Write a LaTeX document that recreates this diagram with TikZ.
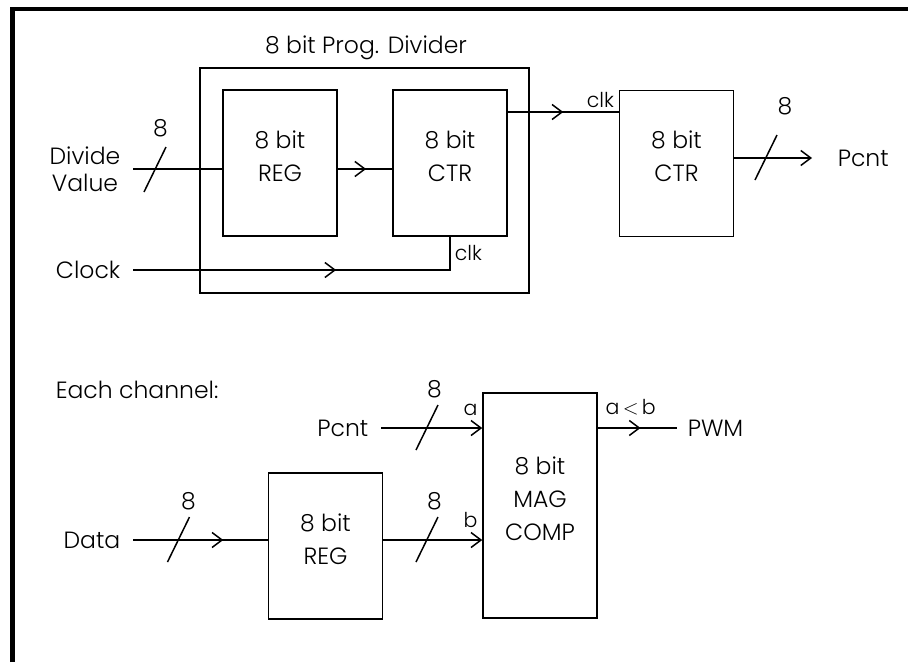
\documentclass[tikz,border=0pt]{standalone}
\usepackage{fontspec}
\setmainfont{Poppins Light}
\usetikzlibrary{arrows.meta,decorations.markings}

\tikzset{
  blk/.style={draw,inner sep=0pt,align=center,font=\fontsize{23.5}{33}\selectfont,
    execute at end node={\rule[-14pt]{0pt}{0pt}}},
  io/.style={inner xsep=12pt,inner ysep=0pt,align=center,font=\fontsize{23.5}{27}\selectfont},
  pin/.style={inner sep=4pt,font=\fontsize{20.5}{22}\selectfont},
  num/.style={inner sep=0pt,font=\fontsize{23.5}{24}\selectfont},
  midarrow/.style={postaction={decorate},decoration={markings,
    mark=at position #1 with {\arrow{Straight Barb[length=10pt,width=15pt]}}}},
}
% bus slash with its width
\newcommand{\busline}[3]{\draw (#1) ++(-11,22.5) -- ++(22,-45);
  \node[num] (#2) at (#3) {8};}

\begin{document}
\begin{tikzpicture}[x=1pt,y=-1pt,line width=1.5pt,>={Straight Barb[length=10pt,width=15pt]}]
  \useasboundingbox (0,0) rectangle (908,662);
  \draw[line width=4.5pt] (12.3,662) -- (12.3,9) -- (908,9);

  % divider
  \node[draw,minimum width=329pt,minimum height=225pt] (prog) at (364.5,180.5) {};
  \node[io,inner xsep=0pt] (progname) at (366,48) {8 bit Prog. Divider};
  \node[blk,minimum width=114pt,minimum height=146pt] (reg1) at (280,163) {8 bit\\REG};
  \node[blk,minimum width=114pt,minimum height=146pt] (ctr1) at (450,163) {8 bit\\CTR};
  \node[blk,minimum width=114pt,minimum height=146pt] (ctr2) at (676.5,163.5) {8 bit\\CTR};

  \node[io,anchor=east] (divval) at (133,169) {Divide\\Value};
  \node[io,anchor=east] (clock) at (133,270) {Clock};
  \node[io,anchor=west,inner xsep=25pt] (pcntout) at (812,158) {Pcnt};

  \draw (divval.east) -- (divval.east -| reg1.west);
  \draw[midarrow=0.52] (reg1.east |- divval) -- (ctr1.west |- divval);
  \draw[midarrow=0.58] (clock.east) -- (clock -| ctr1.south) -- (ctr1.south)
    node[pin,midway,right] (clk1) {clk};
  \draw[midarrow=0.5] (ctr1.east |- 0,112) -- (ctr2.west |- 0,112)
    node[pin,above left] (clk2) {clk};
  \draw[->] (ctr2.east |- pcntout) -- (pcntout.west);

  \busline{155,169.5}{w1}{160.5,128}
  \busline{766,157.5}{w2}{785,106.5}

  % each channel
  \node[io,anchor=west,inner xsep=0pt] (each) at (55,390) {Each channel:};
  \node[blk,minimum width=114pt,minimum height=225pt] (mag) at (540,505.5) {8 bit\\MAG\\COMP};
  \node[blk,minimum width=114pt,minimum height=146pt] (reg2) at (325.5,546) {8 bit\\REG};

  \node[io,anchor=east] (pcntin) at (381,428) {Pcnt};
  \node[io,anchor=east] (data) at (133,540) {Data};
  \node[io,anchor=west,inner xsep=10pt] (pwm) at (677,428) {PWM};

  \draw[->] (pcntin.east) -- (pcntin -| mag.west)
    node[pin,above left,yshift=8pt] (ina) {a};
  \draw[midarrow=0.67] (data.east) -- (data -| reg2.west);
  \draw[->] (reg2.east |- data) -- (data -| mag.west)
    node[pin,above left,yshift=8pt] (inb) {b};
  \draw[midarrow=0.54] (mag.east |- pcntin) -- (pwm.west)
    node[pin,pos=0,above right,yshift=8pt,xshift=3pt] (altb) {a\,$<$\,b};

  \busline{427,427.5}{w3}{434.5,389}
  \busline{178.5,539.5}{w4}{188.5,501.5}
  \busline{427,539.5}{w5}{434.5,501.5}
\end{tikzpicture}
\end{document}
